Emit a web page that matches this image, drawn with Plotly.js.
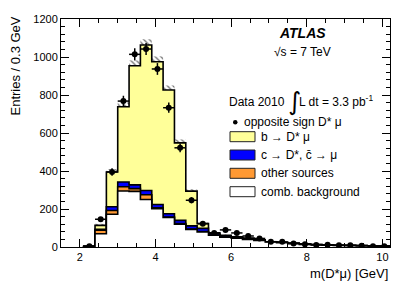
<!DOCTYPE html>
<html><head><meta charset="utf-8">
<script src="https://cdn.plot.ly/plotly-3.0.1.min.js"></script>
<style>html,body{margin:0;padding:0;background:#fff}#chart{width:411px;height:295px}</style>
</head><body><div id="chart"></div>
<script>
// bin edges of m(D*mu) [GeV], 0.3 GeV bins
const binEdges = [2.1,2.4,2.7,3.0,3.3,3.6,3.9,4.2,4.5,4.8,5.1,5.4,5.7,6.0,6.3,6.6,6.9,7.2,7.5,7.8,8.1,8.4,8.7,9.0,9.3,9.6,9.9,10.2];
// stacked MC components (entries / bin)
const combBackground = [3,70,172,295,293,250,202,155,120,92,79,62,52,46,40,34,26,22,18,14,12,10,8,7,6,5,4];
const otherSources   = [0,18,20,22,14,25,4,3,3,2,2,1,1,1,1,0,0,0,0,0,0,0,0,0,0,0,0];
const charmDecays    = [0,5,20,25,20,22,18,17,17,17,17,8,6,5,4,3,2,2,1,1,1,1,1,1,1,1,1];
const bToDstarMu     = [2,21,183,396,627,766,751,651,408,183,25,4,3,2,2,1,0,0,0,0,0,0,0,0,0,0,0];
// MC uncertainty (hatched band)
const mcUncertainty  = [1,8,15,22,28,30,28,24,18,10,5,3,3,2,2,2,1,1,1,1,1,1,1,1,1,1,1];
// data: opposite sign D* mu
const dataCounts = [4,146,395,768,1014,1042,937,733,522,246,123,74,90,74,58,45,28,27,19,14,10,12,9,9,7,4,4];
const dataErrors = [2,12,20,28,32,32,31,27,23,16,11,9,9,9,8,7,5,5,4,4,3,3,3,3,3,2,2];

const FONT = '"Liberation Sans", Arial, Helvetica, sans-serif';
const W = 411, H = 295, M = {l: 61, r: 21, t: 19, b: 48};
const pw = W - M.l - M.r, ph = H - M.t - M.b;
const px = x => (x - M.l) / pw;
const py = y => (H - M.b - y) / ph;

const nb = binEdges.length - 1;
const centers = binEdges.slice(0, nb).map((e, i) => (e + binEdges[i + 1]) / 2);
function cumulative(arrs) { return centers.map((_, i) => arrs.reduce((s, a) => s + a[i], 0)); }

const cumComb = combBackground;
const cumOther = cumulative([combBackground, otherSources]);
const cumCharm = cumulative([combBackground, otherSources, charmDecays]);
const cumTotal = cumulative([combBackground, otherSources, charmDecays, bToDstarMu]);

function stepTrace(vals, color) {
  const xs = [binEdges[0]].concat(binEdges).concat([binEdges[nb]]);
  const ys = [0].concat(vals).concat([vals[nb - 1], 0]);
  return {
    type: 'scatter', mode: 'lines', x: xs, y: ys,
    line: {shape: 'hv', color: '#000', width: 1.6},
    fill: 'tozeroy', fillcolor: color, hoverinfo: 'skip', showlegend: false, cliponaxis: true
  };
}

const COL = {b: '#ffff99', c: '#0000ff', other: '#ff9933', comb: '#ffffff'};

const traces = [
  {
    type: 'bar', x: centers, width: binEdges.slice(1).map((e, i) => e - binEdges[i]),
    y: mcUncertainty.map(e => 2 * e), base: cumTotal.map((t, i) => t - mcUncertainty[i]),
    marker: {color: 'rgba(0,0,0,0)', line: {width: 0},
      pattern: {shape: '\\', fgcolor: '#666', bgcolor: 'rgba(0,0,0,0)', size: 4, solidity: 0.3}},
    showlegend: false, hoverinfo: 'skip'
  },
  stepTrace(cumTotal, COL.b),
  stepTrace(cumCharm, COL.c),
  stepTrace(cumOther, COL.other),
  stepTrace(cumComb, COL.comb),
  {
    type: 'scatter', mode: 'markers', x: centers, y: dataCounts,
    marker: {color: '#000', size: 6, symbol: 'circle'},
    error_y: {type: 'data', array: dataErrors, color: '#000', thickness: 1.5, width: 0},
    error_x: {type: 'constant', value: 0.15, color: '#000', thickness: 1.5, width: 0},
    showlegend: false
  }
];

const legendItems = [
  {label: 'b \u2192 D* \u03bc', color: COL.b, y: 136.7},
  {label: 'c \u2192 D*, c\u0304 \u2192 \u03bc', color: COL.c, y: 155},
  {label: 'other sources', color: COL.other, y: 173.3},
  {label: 'comb. background', color: COL.comb, y: 191.7}
];

const shapes = [];
const annotations = [];
function ann(text, x, y, opts) {
  annotations.push(Object.assign({text: text, xref: 'paper', yref: 'paper', x: px(x), y: py(y),
    showarrow: false, xanchor: 'left', yanchor: 'middle',
    font: {family: FONT, size: 12, color: '#000'}}, opts || {}));
}
legendItems.forEach(it => {
  shapes.push({type: 'rect', xref: 'paper', yref: 'paper', x0: px(230), x1: px(255),
    y0: py(it.y - 5), y1: py(it.y + 5), fillcolor: it.color, line: {color: '#222', width: 1}});
  ann(it.label, 259, it.y);
});
shapes.push({type: 'circle', xref: 'paper', yref: 'paper', x0: px(233), x1: px(237.5),
  y0: py(120), y1: py(124.5), fillcolor: '#000', line: {color: '#000', width: 0}});
ann('opposite sign D* \u03bc', 242, 122);
ann('Data 2010', 227, 102);
ann('\u222b', 286, 101, {font: {family: '"DejaVu Sans", sans-serif', size: 25, color: '#000'}});
ann('L dt = 3.3 pb<sup>-1</sup>', 297, 101);
ann('<b><i>ATLAS</i></b>', 302, 33, {xanchor: 'center', font: {family: FONT, size: 14, color: '#000'}});
ann('\u221as = 7 TeV', 302, 52, {xanchor: 'center', font: {family: FONT, size: 12, color: '#000'}});
ann('m(D*\u03bc) [GeV]', 390, 273, {xanchor: 'right', font: {family: FONT, size: 13, color: '#000'}});
ann('Entries / 0.3 GeV', 15, 15, {xanchor: 'center', yanchor: 'top', textangle: -90,
  font: {family: FONT, size: 13, color: '#000'}});

const axisCommon = {
  showline: true, mirror: 'ticks', linecolor: '#000', linewidth: 1,
  ticks: 'inside', ticklen: 8, tickwidth: 1, tickcolor: '#000',
  showgrid: false, zeroline: false, fixedrange: true,
  tickfont: {family: FONT, size: 11, color: '#000'}
};

const layout = {
  width: W, height: H, margin: M,
  paper_bgcolor: '#fff', plot_bgcolor: '#fff',
  showlegend: false, barmode: 'overlay',
  xaxis: Object.assign({}, axisCommon, {range: [1.5, 10.2], tick0: 0, dtick: 2,
    minor: {dtick: 0.5, ticks: 'inside', ticklen: 4, tickcolor: '#000', showgrid: false}}),
  yaxis: Object.assign({}, axisCommon, {range: [0, 1200], tick0: 0, dtick: 200,
    minor: {dtick: 40, ticks: 'inside', ticklen: 4, tickcolor: '#000', showgrid: false}}),
  shapes: shapes, annotations: annotations
};

Plotly.newPlot('chart', traces, layout, {staticPlot: true, displayModeBar: false});
</script>
</body></html>
